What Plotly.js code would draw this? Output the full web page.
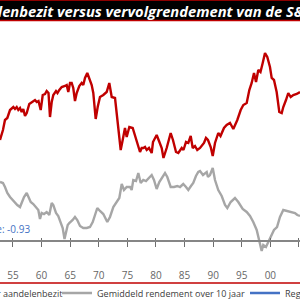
<!DOCTYPE html>
<html><head><meta charset="utf-8">
<script src="https://cdn.plot.ly/plotly-3.0.1.min.js"></script>
<style>html,body{margin:0;padding:0;background:#fff;overflow:hidden}#chart{width:300px;height:300px}</style>
</head><body><div id="chart"></div>
<script>
// ---- data ----
const titleText = 'Aandelenbezit versus vervolgrendement van de S&P 500';
const seriesNames = ['Gemiddelde investeerder aandelenbezit', 'Gemiddeld rendement over 10 jaar', 'Regressie'];
const correlationText = 'Correlatie: -0.93';
const tickYears = [1955, 1960, 1965, 1970, 1975, 1980, 1985, 1990, 1995, 2000, 2005];
const tickLabels = ['55', '60', '65', '70', '75', '80', '85', '90', '95', '00', '05'];

const redYears = [1952.73,1953.25,1953.60,1954.01,1954.48,1955.06,1955.35,1955.65,1955.93,1956.23,1956.52,1956.80,1957.10,1957.40,1957.85,1958.27,1958.85,1959.15,1959.46,1959.85,1960.20,1960.60,1960.89,1961.21,1961.47,1961.77,1962.05,1962.52,1962.78,1963.10,1963.52,1964.09,1964.39,1964.67,1964.97,1965.26,1965.54,1965.84,1966.14,1966.59,1967.01,1967.29,1967.59,1967.99,1968.34,1968.76,1969.04,1969.46,1969.81,1970.21,1970.79,1971.38,1971.84,1972.26,1972.84,1973.13,1973.41,1973.83,1974.18,1974.58,1974.88,1975.34,1975.93,1976.33,1976.73,1977.21,1977.50,1977.78,1978.08,1978.38,1978.78,1979.25,1979.48,1980.12,1980.53,1981.00,1981.31,1981.87,1982.57,1982.97,1983.50,1983.90,1984.50,1984.81,1985.25,1985.65,1986.07,1986.42,1986.82,1987.22,1987.70,1988.39,1988.74,1989.09,1989.57,1989.92,1990.32,1990.89,1991.28,1991.89,1992.36,1992.94,1993.24,1993.52,1994.22,1994.81,1995.27,1995.86,1996.32,1996.73,1997.14,1997.49,1997.89,1998.27,1998.66,1999.06,1999.46,1999.93,2000.23,2000.63,2001.10,2001.56,2001.98,2002.26,2002.73,2003.13,2003.55,2004.01,2004.60,2005.18];
const redAllocation = [30,32.5,35,35.5,37.5,38.25,37.75,38.25,37.5,38,37,37.75,36,36.75,39,39.5,40,39.5,39.75,37.5,41.25,41.5,42.25,41.75,35.75,39.5,41.25,42.25,41.75,42.5,43.25,43.5,43.75,42,44.25,44.25,43,39.75,41.75,43.5,44.25,43.75,45.5,46.75,45.5,43.75,41.75,35.25,38.25,40.75,41.25,42,44.25,40.75,40.5,36.25,33.25,27.5,30,33,30.75,33.25,33,31,29.5,27,28,28,28.25,27.5,28,26.75,29.5,31.25,29.75,28,25.5,28,31.75,30,27,26.75,28,27.5,29.5,29.25,31,28,28.5,27.5,28,29.25,30.5,30,28.25,26,29.25,31.75,31,33,33.75,34.25,33.5,32.75,35,37.5,38.75,39.25,42.5,44.25,46.75,44.5,47.5,47,49.25,51.75,50.75,48.25,45.5,45,42,37,36.75,38.25,40,41.75,40.75,41.25,41.5,42];

const greyYears = [1952.73,1953.25,1953.60,1954.01,1954.48,1954.95,1955.35,1955.75,1956.23,1956.52,1956.93,1957.40,1957.71,1958.10,1958.55,1959.02,1959.43,1959.72,1960.02,1960.42,1960.89,1961.35,1961.77,1962.05,1962.52,1962.92,1963.34,1963.69,1964.01,1964.27,1964.57,1964.84,1965.44,1965.84,1966.24,1966.72,1967.29,1967.89,1968.46,1968.94,1969.34,1969.74,1970.21,1970.79,1971.49,1971.96,1972.54,1973.13,1973.59,1974.01,1974.41,1974.88,1975.46,1975.75,1976.03,1976.51,1976.91,1977.33,1977.78,1978.25,1978.83,1979.25,1979.65,1980.12,1980.58,1981.17,1981.58,1981.98,1982.57,1983.15,1983.73,1984.20,1984.77,1985.25,1985.65,1986.12,1986.52,1986.99,1987.40,1987.70,1988.22,1988.87,1989.09,1989.44,1989.92,1990.32,1990.89,1991.49,1992.07,1992.47,1993.06,1993.81,1994.39,1995.16,1995.86,1996.44,1997.01,1997.61,1998.06,1998.48,1998.76,1999.23,1999.64,2000.06,2000.63,2001.16,2001.68,2002.26,2002.85,2003.55,2004.30,2004.71,2005.18];
const greyReturn = [14.5,14.25,13.25,11.75,10.75,10,9.25,8.75,8.25,9.5,10.75,11.75,10.75,9.5,9,8.25,7.5,5.25,6.75,6.5,7,6.25,9.25,8.75,6.75,6,4.5,3,0.25,2,3.75,4.25,5,5.75,5,3.5,3,3,3.25,4.5,6.25,8,7.25,6.5,4.5,5.75,8.25,9.5,10.5,14,12.5,13.25,13.25,12.5,15,14.75,16.75,14.25,15,14.75,15.75,16.25,15,12.75,14.5,15.75,16.75,15.75,13.25,13.25,13.5,13.25,14,13.25,12.5,13.5,14.25,16,17,17.25,16.25,17,15.75,16.25,18,15,12.5,11,8.75,8,9.5,10.5,9.5,7.75,7,6,4.5,2.5,0,-2.75,-1.25,-1.75,-0.5,0.75,2.5,3.25,5.75,7.5,7.25,7,6.75,6.25,6];
// the blue series has no points inside the visible window
const blueYears = [null];
const blueValues = [null];

// ---- helpers (layout only) ----
const W = 300, H = 300;
const px = v => v / W, py = v => 1 - v / H;
function measure(txt, style, size, family) {
  const c = document.createElement('canvas').getContext('2d');
  c.font = style + ' ' + size + 'px ' + family;
  return c.measureText(txt).width;
}
const FAM = '"Open Sans", "Noto Sans", sans-serif';
const titleSize = 100 * 292 / measure('enbezit versus vervolgrendement van de S', 'italic bold', 100, FAM);
const prefixW = measure('Aandel', 'italic bold', titleSize, FAM);
const legSize = 100 * 148 / measure(seriesNames[1], 'normal', 100, FAM);
const xr = [1952.73, 2005.18];

const traces = [
  {x: redYears, y: redAllocation, name: seriesNames[0], type: 'scatter', mode: 'lines',
   line: {color: '#C00000', width: 2.4}, xaxis: 'x', yaxis: 'y', legend: 'legend'},
  {x: greyYears, y: greyReturn, name: seriesNames[1], type: 'scatter', mode: 'lines',
   line: {color: '#A6A6A6', width: 2.4}, xaxis: 'x2', yaxis: 'y2', legend: 'legend2'},
  {x: blueYears, y: blueValues, name: seriesNames[2], type: 'scatter', mode: 'lines',
   line: {color: '#4472C4', width: 2.4}, xaxis: 'x3', yaxis: 'y2', legend: 'legend3'}
];

const legFont = {family: FAM, size: legSize, color: '#404040'};
const legBase = {orientation: 'h', yanchor: 'middle', y: py(293), bgcolor: 'rgba(0,0,0,0)',
  borderwidth: 0, font: legFont, itemwidth: 30};

const layout = {
  width: W, height: H,
  margin: {l: 0, r: 0, t: 0, b: 0, pad: 0, autoexpand: false},
  paper_bgcolor: '#fff', plot_bgcolor: '#fff',
  showlegend: true,
  // axis line with downward ticks
  xaxis: {range: xr, anchor: 'free', position: py(240),
    showline: true, linecolor: '#868686', linewidth: 1.5,
    ticks: 'outside', ticklen: 5, tickcolor: '#6e6e6e', tickwidth: 1,
    tickmode: 'array', tickvals: tickYears, showticklabels: false,
    showgrid: false, zeroline: false, fixedrange: true},
  // short upward part of the crossing ticks
  xaxis2: {range: xr, overlaying: 'x', anchor: 'free', position: py(240),
    ticks: 'inside', ticklen: 2.5, tickcolor: '#6e6e6e', tickwidth: 1,
    tickmode: 'array', tickvals: tickYears, showticklabels: false,
    showline: false, showgrid: false, zeroline: false},
  // tick labels placed low, near the bottom of the chart
  xaxis3: {range: xr, overlaying: 'x', anchor: 'free', position: py(268),
    ticks: '', tickmode: 'array', tickvals: tickYears, ticktext: tickLabels,
    tickfont: {family: FAM, size: 10, color: '#666666'},
    showline: false, showgrid: false, zeroline: false},
  yaxis: {range: [-10, 65], visible: false, showgrid: false, zeroline: false},
  yaxis2: {range: [-15, 60], overlaying: 'y', visible: false, showgrid: false, zeroline: false},
  legend: Object.assign({}, legBase, {xanchor: 'right', x: px(69)}),
  legend2: Object.assign({}, legBase, {xanchor: 'left', x: px(57)}),
  legend3: Object.assign({}, legBase, {xanchor: 'left', x: px(245)}),
  shapes: [
    {type: 'rect', xref: 'paper', yref: 'paper', x0: -0.05, x1: 1.05, y0: py(20), y1: 1.02,
     fillcolor: '#000', line: {width: 0}, layer: 'above'},
    {type: 'line', xref: 'paper', yref: 'paper', x0: -0.05, x1: 1.05, y0: py(20.5), y1: py(20.5),
     line: {color: '#C00000', width: 1.5}},
    {type: 'line', xref: 'paper', yref: 'paper', x0: -0.05, x1: 1.05, y0: py(0.5), y1: py(0.5),
     line: {color: '#8B0000', width: 1}},
    {type: 'line', xref: 'paper', yref: 'paper', x0: -0.05, x1: 1.05, y0: py(283), y1: py(283),
     line: {color: '#C00000', width: 1.5}}
  ],
  annotations: [
    {text: '<b><i>' + titleText.replace('&', '&amp;') + '</i></b>', xref: 'paper', yref: 'paper',
     x: px(1 - prefixW - 2), xanchor: 'left', y: py(10.5), yanchor: 'middle', showarrow: false,
     font: {family: FAM, size: titleSize, color: '#fff'}},
    {text: correlationText, xref: 'paper', yref: 'paper', x: px(32), xanchor: 'right',
     y: py(229), yanchor: 'middle', showarrow: false,
     font: {family: FAM, size: 10, color: '#4472C4'}}
  ]
};

Plotly.newPlot('chart', traces, layout, {displayModeBar: false, staticPlot: true});
</script>
</body></html>
